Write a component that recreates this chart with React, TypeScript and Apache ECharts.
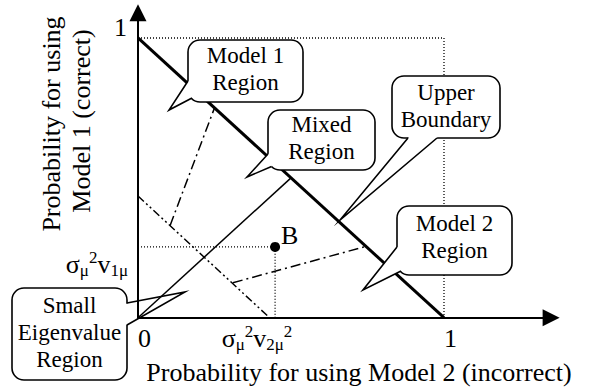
import React, { useEffect, useRef } from "react";
import * as echarts from "echarts";

// ---- data (unit probability plane) ----
const upperBoundary = [[0, 1], [1, 0]];
const mixedDiagonal = [[0, 0], [0.5, 0.5]];
const eigenBoundary = [[0, 0.435], [0.43, 0]];
const model1Divider = [[0.105, 0.33], [0.25, 0.75]];
const model2Divider = [[0.31, 0.125], [0.745, 0.255]];
const unitFrame = [[0, 1], [1, 1], [1, 0]];
const pointB = [0.448, 0.253];
const pointBGuide = [[0, 0.253], [0.448, 0.253], [0.448, 0]];
const xTickValues = [0, 1];
const yTickValues = [1];
const xAxisTitle = "Probability for using Model 2 (incorrect)";
const yAxisTitleLines = ["Probability for using", "Model 1 (correct)"];
const calloutTexts = [
  ["Model 1", "Region"],
  ["Mixed", "Region"],
  ["Upper", "Boundary"],
  ["Model 2", "Region"],
  ["Small", "Eigenvalue", "Region"],
];

// ---- layout (pixels) ----
const FONT = "Liberation Serif";
const LINE_GAP = 27;
const calloutLayout = [
  { box: [188, 40, 115, 62], tail: [[188, 81], [169, 110], [192, 98]], dy: -2, fill: true },
  { box: [268, 110, 107, 60], tail: [[268, 154], [247, 177], [271.5, 166.5]], dy: -2, fill: true },
  { box: [392, 76, 108, 62], tail: [[408, 138], [340, 220], [437, 138]], dy: -1, fill: true },
  { box: [397, 206, 115, 69], tail: [[397, 247], [363, 290], [401, 271]], dy: -4, fill: true },
  { box: [12, 288, 115, 92], tail: [[127, 303], [185, 292], [127, 325]], dy: -2, fill: false },
];
const yTitlePos = [[51, 124], [81, 121]];

function toward(p: number[], q: number[], d: number) {
  const dx = q[0] - p[0];
  const dy = q[1] - p[1];
  const L = Math.hypot(dx, dy) || 1;
  return [p[0] + (dx / L) * d, p[1] + (dy / L) * d];
}

function plainText(text: string, x: number, y: number, size: number, z: number, rotation = 0) {
  return {
    type: "text",
    z,
    x,
    y,
    rotation,
    style: {
      text,
      fill: "#000",
      fontSize: size,
      fontFamily: FONT,
      align: "center",
      verticalAlign: "middle",
      textAlign: "center",
      textVerticalAlign: "middle",
    },
  };
}

function calloutElements(i: number) {
  const c = calloutLayout[i];
  const [x, y, w, h] = c.box;
  const [b1, tip, b2] = c.tail;
  const ctr = [x + w / 2, y + h / 2];
  const cover = c.fill
    ? [b1, tip, b2, toward(b2, ctr, 3), toward(b1, ctr, 3)]
    : [toward(b1, ctr, 3), toward(b1, tip, 3), toward(b2, tip, 3), toward(b2, ctr, 3)];
  const lines = calloutTexts[i];
  return [
    {
      type: "rect",
      z: 100,
      shape: { x, y, width: w, height: h, r: 12 },
      style: { fill: "#fff", stroke: "#000", lineWidth: 1.6 },
    },
    {
      type: "polygon",
      z: 101,
      shape: { points: cover },
      style: { fill: "#fff", stroke: null },
    },
    {
      type: "polyline",
      z: 102,
      shape: { points: [b1, tip, b2] },
      style: { fill: null, stroke: "#000", lineWidth: 1.6, lineJoin: "miter", miterLimit: 20 },
    },
    ...lines.map((t, k) =>
      plainText(t, ctr[0], ctr[1] + c.dy + (k - (lines.length - 1) / 2) * LINE_GAP, 23, 103)
    ),
  ];
}

const subRich = {
  s: { fontSize: 26, fontFamily: FONT, lineHeight: 30, fill: "#000" },
  sub: { fontSize: 17, fontFamily: FONT, lineHeight: 17, verticalAlign: "bottom", fill: "#000" },
  sup: { fontSize: 17, fontFamily: FONT, lineHeight: 17, verticalAlign: "top", fill: "#000" },
};

function lineSeries(name: string, data: number[][], width: number, type: any) {
  return {
    name,
    type: "line",
    data,
    showSymbol: false,
    symbol: "none",
    silent: true,
    lineStyle: { color: "#000", width, type },
    z: 3,
  };
}

const option: any = {
  animation: false,
  backgroundColor: "#fff",
  textStyle: { fontFamily: FONT },
  grid: { left: 138, top: 12.8, width: 413.1, height: 304.9 },
  xAxis: {
    type: "value",
    min: 0,
    max: 1.35,
    interval: 1,
    splitLine: { show: false },
    axisTick: { show: false },
    axisLine: {
      show: true,
      lineStyle: { color: "#000", width: 2 },
      symbol: ["none", "triangle"],
      symbolSize: [17, 17],
    },
    axisLabel: {
      show: true,
      showMaxLabel: false,
      margin: 8,
      align: "left",
      verticalAlign: "top",
      color: "#000",
      fontSize: 26,
      lineHeight: 26,
      fontFamily: FONT,
      formatter: (v: number) => (xTickValues.includes(v) ? String(v) : ""),
    },
  },
  yAxis: {
    type: "value",
    min: 0,
    max: 1.09,
    interval: 1,
    splitLine: { show: false },
    axisTick: { show: false },
    axisLine: {
      show: true,
      lineStyle: { color: "#000", width: 2 },
      symbol: ["none", "triangle"],
      symbolSize: [17, 17],
    },
    axisLabel: {
      show: true,
      showMaxLabel: false,
      margin: 11,
      color: "#000",
      fontSize: 26,
      fontFamily: FONT,
      verticalAlign: "bottom",
      lineHeight: 20,
      formatter: (v: number) => (yTickValues.includes(v) ? String(v) : ""),
    },
  },
  series: [
    lineSeries("frame", unitFrame, 1.3, [1, 2]),
    lineSeries("guideB", pointBGuide, 1.3, [1, 2]),
    lineSeries("eigen", eigenBoundary, 1.5, [8, 3, 2, 3, 2, 3]),
    lineSeries("m1div", model1Divider, 1.5, [10, 4, 2, 4]),
    lineSeries("m2div", model2Divider, 1.5, [10, 4, 2, 4]),
    lineSeries("mixed", mixedDiagonal, 1.5, "solid"),
    lineSeries("upper", upperBoundary, 3, "solid"),
    {
      name: "B",
      type: "scatter",
      data: [pointB],
      symbol: "circle",
      symbolSize: 10,
      itemStyle: { color: "#000", opacity: 1 },
      z: 4,
      label: {
        show: true,
        position: "right",
        distance: 1,
        offset: [0, -11],
        formatter: "B",
        color: "#000",
        fontSize: 26,
        fontFamily: FONT,
      },
    },
  ],
  graphic: [
    ...yAxisTitleLines.map((t, k) =>
      plainText(t, yTitlePos[k][0], yTitlePos[k][1], 26, 90, Math.PI / 2)
    ),
    plainText(xAxisTitle, 359, 372, 26, 90),
    {
      type: "text",
      z: 90,
      x: 128,
      y: 264,
      style: {
        text: "{s|σ}{sub|μ}{sup|2}{s|v}{sub|1μ}",
        rich: subRich,
        fontFamily: FONT,
        align: "right",
        verticalAlign: "middle",
        textAlign: "right",
        textVerticalAlign: "middle",
      },
    },
    {
      type: "text",
      z: 90,
      x: 257,
      y: 338,
      style: {
        text: "{s|σ}{sub|μ}{sup|2}{s|v}{sub|2μ}{sup|2}",
        rich: subRich,
        fontFamily: FONT,
        align: "center",
        verticalAlign: "middle",
        textAlign: "center",
        textVerticalAlign: "middle",
      },
    },
    ...calloutLayout.flatMap((_, i) => calloutElements(i)),
  ],
};

export default function App() {
  const ref = useRef<HTMLDivElement>(null);
  useEffect(() => {
    document.body.style.margin = "0";
    const chart = echarts.init(ref.current!, null, { renderer: "svg" });
    chart.setOption(option);
    return () => chart.dispose();
  }, []);
  return <div ref={ref} style={{ width: 595, height: 387 }} />;
}
